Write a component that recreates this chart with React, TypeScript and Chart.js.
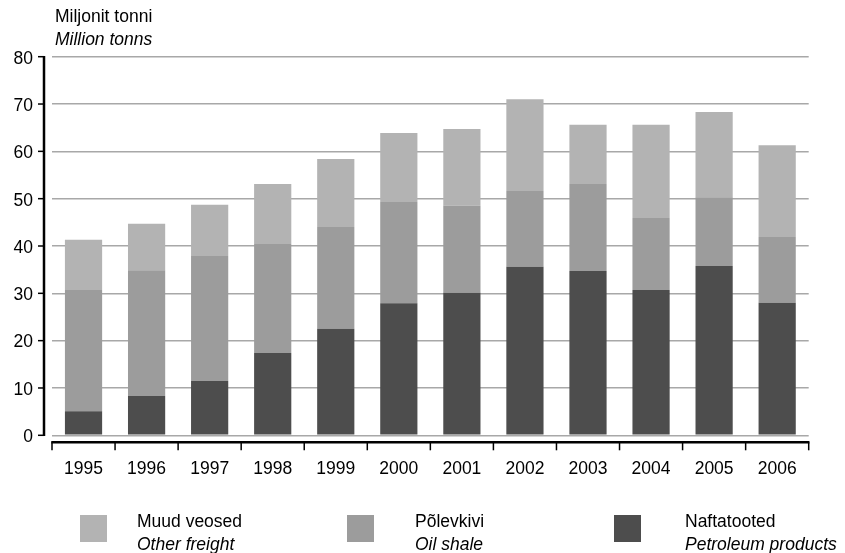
import React, { useEffect, useRef } from "react";
import { Chart, registerables } from "chart.js";

Chart.register(...registerables);

const years = ["1995", "1996", "1997", "1998", "1999", "2000", "2001", "2002", "2003", "2004", "2005", "2006"];
const petroleum = [5.1, 8.3, 11.5, 17.4, 22.5, 27.9, 30.1, 35.6, 34.7, 30.7, 35.8, 28.0];
const oilShale = [25.6, 26.6, 26.4, 23.0, 21.5, 21.4, 18.4, 16.0, 18.4, 15.2, 14.5, 13.9];
const otherFreight = [10.6, 9.8, 10.8, 12.7, 14.4, 14.6, 16.2, 19.4, 12.5, 19.7, 18.0, 19.4];
const yMin = 0;
const yMax = 80;
const yStep = 10;

const titleLines = ["Miljonit tonni", "Million tonns"];
const seriesNames = [
  { et: "Muud veosed", en: "Other freight", color: "#b3b3b3" },
  { et: "Põlevkivi", en: "Oil shale", color: "#9c9c9c" },
  { et: "Naftatooted", en: "Petroleum products", color: "#4d4d4d" },
];

const FONT = "'Liberation Sans', Arial, Helvetica, sans-serif";
const FS = 17.5;

const axesPlugin = {
  id: "customAxes",
  afterDraw(chart: any) {
    const { ctx, chartArea, scales } = chart;
    const xs = scales.x;
    const ys = scales.y;
    ctx.save();
    ctx.strokeStyle = "#000";
    // vertical axis
    const ax = chartArea.left - 8;
    ctx.lineWidth = 2.5;
    ctx.beginPath();
    ctx.moveTo(ax, ys.getPixelForValue(yMax) - 0.75);
    ctx.lineTo(ax, ys.getPixelForValue(yMin) + 0.75);
    ctx.stroke();
    ctx.lineWidth = 1.5;
    ys.ticks.forEach((t: any) => {
      const py = ys.getPixelForValue(t.value);
      ctx.beginPath();
      ctx.moveTo(ax - 6, py);
      ctx.lineTo(ax, py);
      ctx.stroke();
    });
    // horizontal axis
    const ay = chartArea.bottom + 7;
    const x0 = xs.getPixelForValue(-0.5);
    const x1 = xs.getPixelForValue(years.length - 0.5);
    ctx.lineWidth = 2.5;
    ctx.beginPath();
    ctx.moveTo(x0 - 0.75, ay);
    ctx.lineTo(x1 + 0.75, ay);
    ctx.stroke();
    ctx.lineWidth = 1.5;
    for (let i = 0; i <= years.length; i++) {
      const px = xs.getPixelForValue(i - 0.5);
      ctx.beginPath();
      ctx.moveTo(px, ay);
      ctx.lineTo(px, ay + 8);
      ctx.stroke();
    }
    ctx.restore();
  },
};

export default function App() {
  const canvasRef = useRef<HTMLCanvasElement | null>(null);

  useEffect(() => {
    if (!canvasRef.current) return;
    const chart = new Chart(canvasRef.current, {
      type: "bar",
      data: {
        labels: years,
        datasets: [
          { label: seriesNames[2].en, data: petroleum, backgroundColor: seriesNames[2].color, borderWidth: 0 },
          { label: seriesNames[1].en, data: oilShale, backgroundColor: seriesNames[1].color, borderWidth: 0 },
          { label: seriesNames[0].en, data: otherFreight, backgroundColor: seriesNames[0].color, borderWidth: 0 },
        ],
      },
      options: {
        responsive: false,
        animation: false,
        layout: { padding: { left: 0, right: 36.3, top: 56.7, bottom: 0 } },
        datasets: { bar: { categoryPercentage: 1, barPercentage: 0.59 } },
        plugins: {
          legend: { display: false },
          title: { display: false },
          tooltip: { enabled: false },
        },
        scales: {
          x: {
            stacked: true,
            grid: { display: false, drawTicks: false },
            border: { display: false },
            ticks: {
              font: { family: FONT, size: FS },
              color: "#000",
              padding: 23.5,
              maxRotation: 0,
              autoSkip: false,
            },
            afterFit: (s: any) => {
              s.height = 117.7;
            },
          },
          y: {
            stacked: true,
            min: yMin,
            max: yMax,
            ticks: {
              stepSize: yStep,
              font: { family: FONT, size: FS },
              color: "#000",
              padding: 19,
              labelOffset: 2,
            },
            grid: { color: "#a8a8a8", lineWidth: 1.5, drawTicks: false },
            border: { display: false },
            afterFit: (s: any) => {
              s.width = 52;
            },
          },
        },
      },
      plugins: [axesPlugin],
    });
    return () => chart.destroy();
  }, []);

  const textStyle: React.CSSProperties = {
    position: "absolute",
    fontFamily: FONT,
    fontSize: FS,
    lineHeight: "23px",
    color: "#000",
    whiteSpace: "nowrap",
  };
  const swatchLeft = [80, 347, 614];
  const textLeft = [137, 415, 685];

  return (
    <div style={{ position: "fixed", left: 0, top: 0, width: 845, height: 553, overflow: "hidden", background: "#fff" }}>
      <canvas ref={canvasRef} width={845} height={553} style={{ position: "absolute", left: 0, top: 0, width: 845, height: 553 }} />
      <div style={{ ...textStyle, left: 55, top: 5.2 }}>
        <div>{titleLines[0]}</div>
        <div style={{ fontStyle: "italic" }}>{titleLines[1]}</div>
      </div>
      {seriesNames.map((s, i) => (
        <React.Fragment key={s.et}>
          <div style={{ position: "absolute", left: swatchLeft[i], top: 515, width: 27, height: 27, background: s.color }} />
          <div style={{ ...textStyle, left: textLeft[i], top: 509.5 }}>
            <div>{s.et}</div>
            <div style={{ fontStyle: "italic" }}>{s.en}</div>
          </div>
        </React.Fragment>
      ))}
    </div>
  );
}
